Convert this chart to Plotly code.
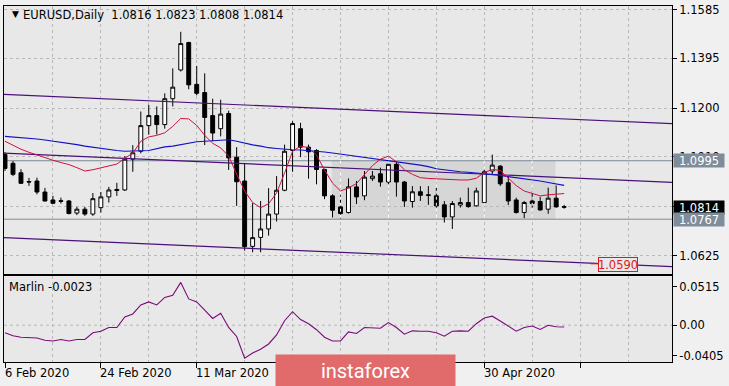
import plotly.graph_objects as go
import pandas as pd

# ---------------- data ----------------
dates = pd.bdate_range("2020-02-06", periods=71)

opens = [1.1019, 1.0985, 1.0948, 1.0914, 1.0916, 1.0873, 1.0842, 1.0839, 1.0838, 1.0791,
         1.0806, 1.0787, 1.0812, 1.0854, 1.0883, 1.0881, 1.1001, 1.1032, 1.1132, 1.1171,
         1.1136, 1.1237, 1.1349, 1.1456, 1.1293, 1.1261, 1.1171, 1.1120, 1.1179, 1.1009,
         1.0916, 1.0661, 1.0696, 1.0729, 1.0787, 1.0880, 1.1035, 1.1120, 1.1048, 1.1035,
         1.0961, 1.0858, 1.0815, 1.0793, 1.0893, 1.0858, 1.0925, 1.0944, 1.0912, 1.0981,
         1.0912, 1.0836, 1.0874, 1.0862, 1.0858, 1.0823, 1.0776, 1.0822, 1.0832, 1.0819,
         1.0832, 1.0955, 1.0974, 1.0909, 1.0842, 1.0793, 1.0838, 1.0836, 1.0806, 1.0849,
         1.0816]
highs = [1.1028, 1.0994, 1.0962, 1.0928, 1.0929, 1.0889, 1.0858, 1.0851, 1.0842, 1.0815,
         1.0815, 1.0869, 1.0873, 1.0893, 1.0909, 1.1013, 1.1056, 1.1187, 1.1213, 1.1207,
         1.1258, 1.1355, 1.1498, 1.1459, 1.1365, 1.1336, 1.1237, 1.1233, 1.1190, 1.1048,
         1.0982, 1.0830, 1.0838, 1.0888, 1.0935, 1.1058, 1.1149, 1.1143, 1.1058, 1.1040,
         1.0964, 1.0864, 1.0860, 1.0926, 1.0916, 1.0955, 1.0955, 1.0968, 1.0990, 1.0994,
         1.0916, 1.0896, 1.0896, 1.0896, 1.0890, 1.0838, 1.0838, 1.0851, 1.0890, 1.0890,
         1.0961, 1.1019, 1.0978, 1.0935, 1.0851, 1.0838, 1.0877, 1.0854, 1.0890, 1.0899,
         1.0823]
lows = [1.0955, 1.0935, 1.0904, 1.0897, 1.0864, 1.0836, 1.0828, 1.0828, 1.0786, 1.0783,
        1.0780, 1.0780, 1.0793, 1.0832, 1.0858, 1.0877, 1.0952, 1.1024, 1.1097, 1.1097,
        1.1120, 1.1207, 1.1343, 1.1274, 1.1250, 1.1056, 1.1071, 1.1090, 1.0959, 1.0819,
        1.0644, 1.0638, 1.0638, 1.0703, 1.0758, 1.0876, 1.0952, 1.1009, 1.0925, 1.0903,
        1.0845, 1.0774, 1.0770, 1.0789, 1.0826, 1.0841, 1.0916, 1.0894, 1.0903, 1.0855,
        1.0815, 1.0812, 1.0838, 1.0823, 1.0812, 1.0754, 1.0729, 1.0812, 1.0812, 1.0816,
        1.0829, 1.0942, 1.0897, 1.0822, 1.0789, 1.0771, 1.0812, 1.0800, 1.0788, 1.0812,
        1.0808]
closes = [1.0965, 1.0942, 1.0907, 1.0912, 1.0873, 1.0838, 1.0829, 1.0837, 1.0789, 1.0806,
          1.0787, 1.0847, 1.0854, 1.0881, 1.0879, 1.1001, 1.1026, 1.1132, 1.1171, 1.1136,
          1.1237, 1.1282, 1.1452, 1.1291, 1.1258, 1.1164, 1.1103, 1.1177, 1.1006, 1.0913,
          1.0660, 1.0695, 1.0729, 1.0787, 1.0880, 1.1032, 1.1140, 1.1048, 1.1030, 1.0961,
          1.0858, 1.0802, 1.0789, 1.0893, 1.0854, 1.0931, 1.0935, 1.0912, 1.0981, 1.0912,
          1.0838, 1.0874, 1.0860, 1.0860, 1.0819, 1.0776, 1.0828, 1.0832, 1.0816, 1.0877,
          1.0952, 1.0978, 1.0905, 1.0838, 1.0793, 1.0832, 1.0828, 1.0803, 1.0849, 1.0815,
          1.0814]

ma_fast = [1.1071, 1.1055, 1.1040, 1.1028, 1.1017, 1.1005, 1.0997, 1.0988, 1.0980, 1.0968,
           1.0955, 1.0960, 1.0967, 1.0974, 1.0982, 1.1005, 1.1024, 1.1071, 1.1088, 1.1094,
           1.1104, 1.1129, 1.1160, 1.1158, 1.1133, 1.1094, 1.1063, 1.1045, 1.1013, 1.0943,
           1.0877, 1.0832, 1.0812, 1.0827, 1.0869, 1.0947, 1.1032, 1.1052, 1.1046, 1.1017,
           1.0959, 1.0908, 1.0877, 1.0889, 1.0906, 1.0941, 1.0976, 1.1001, 1.1013, 1.0991,
           1.0960, 1.0942, 1.0929, 1.0926, 1.0924, 1.0922, 1.0922, 1.0920, 1.0920, 1.0927,
           1.0949, 1.0961, 1.0957, 1.0927, 1.0898, 1.0877, 1.0867, 1.0858, 1.0862, 1.0864,
           1.0867]
ma_slow = [1.1090, 1.1088, 1.1085, 1.1083, 1.1080, 1.1076, 1.1072, 1.1068, 1.1064, 1.1058,
           1.1052, 1.1047, 1.1043, 1.1038, 1.1035, 1.1032, 1.1032, 1.1034, 1.1035, 1.1042,
           1.1049, 1.1052, 1.1057, 1.1063, 1.1069, 1.1071, 1.1073, 1.1076, 1.1077, 1.1071,
           1.1063, 1.1057, 1.1052, 1.1046, 1.1043, 1.1040, 1.1038, 1.1037, 1.1035, 1.1033,
           1.1029, 1.1025, 1.1021, 1.1017, 1.1012, 1.1007, 1.1003, 1.0998, 1.0994, 1.0990,
           1.0987, 1.0983, 1.0978, 1.0972, 1.0964, 1.0960, 1.0955, 1.0952, 1.0950, 1.0947,
           1.0945, 1.0941, 1.0938, 1.0933, 1.0929, 1.0924, 1.0920, 1.0916, 1.0910, 1.0904,
           1.0899]

marlin = [-0.0100, -0.0140, -0.0160, -0.0170, -0.0170, -0.0200, -0.0210, -0.0190, -0.0210, -0.0190,
          -0.0190, -0.0100, -0.0080, -0.0030, -0.0030, 0.0110, 0.0150, 0.0270, 0.0310, 0.0270,
          0.0370, 0.0400, 0.0570, 0.0350, 0.0310, 0.0200, 0.0090, 0.0160, -0.0030, -0.0150,
          -0.0440, -0.0370, -0.0320, -0.0250, -0.0130, 0.0060, 0.0180, 0.0075, 0.0020, -0.0060,
          -0.0160, -0.0210, -0.0210, -0.0090, -0.0110, -0.0030, -0.0030, -0.0040, 0.0035, -0.0030,
          -0.0120, -0.0075, -0.0080, -0.0080, -0.0100, -0.0146, -0.0080, -0.0075, -0.0080, 0.0020,
          0.0097, 0.0120, 0.0057, -0.0010, -0.0080, -0.0030, -0.0010, -0.0057, 0.0000, -0.0020,
          -0.0023]

# trend channel (value at first bar, value at last bar)
channel_start = [1.12535, 1.10245, 1.06948]
channel_end = [1.11579, 1.09291, 1.06000]

# horizontal levels / rectangle / price labels
level_prices = [1.0995, 1.0767]
last_price = 1.0814
target_price = 1.0590
range_box_bars = [40.9, 68.9]

price_ticks = [1.1585, 1.1395, 1.1200, 1.1010, 1.0815, 1.0625]
price_tick_text = ["1.1585", "1.1395", "1.1200", "1.1010", "", "1.0625"]
osc_ticks = [0.0515, 0.0, -0.0405]
osc_tick_text = ["0.0515", "0.00", "-0.0405"]
date_label_bars = [0, 12, 24, 60]

title_text = "EURUSD,Daily  1.0816 1.0823 1.0808 1.0814"
osc_title = "Marlin -0.0023"

# ---------------- figure ----------------
pos = list(range(len(dates)))
XR = [-0.125, 83.5]
GRID = "#b9b9b9"
FONT = "DejaVu Sans"

W, H = 729, 386
L, R, T, B = 3, 57, 4, 24
pw, ph = W - L - R, H - T - B


def px_x(x):
    return (x - L) / pw


def px_y(y):
    return (H - B - y) / ph


def bar_paper(b):
    return (b - XR[0]) / (XR[1] - XR[0])


fig = go.Figure()

# white dotted grid seen through the range rectangle (under the candles)
for gx in range(0, 84, 6):
    if range_box_bars[0] < gx < range_box_bars[1]:
        fig.add_trace(go.Scatter(x=[gx, gx], y=level_prices, mode="lines",
                                 line=dict(color="white", width=1, dash="3px,3px"),
                                 hoverinfo="skip", xaxis="x", yaxis="y"))

fig.add_trace(go.Candlestick(
    x=pos, open=opens, high=highs, low=lows, close=closes,
    increasing=dict(line=dict(color="black", width=1), fillcolor="white"),
    decreasing=dict(line=dict(color="black", width=1), fillcolor="black"),
    whiskerwidth=0, hoverinfo="skip", xaxis="x", yaxis="y"))

n_last = len(pos) - 1
for s, e in zip(channel_start, channel_end):
    slope = (e - s) / n_last
    fig.add_trace(go.Scatter(x=XR, y=[s + slope * XR[0], s + slope * XR[1]], mode="lines",
                             line=dict(color="#4b0f7a", width=1.2), hoverinfo="skip",
                             xaxis="x", yaxis="y"))

fig.add_trace(go.Scatter(x=pos, y=ma_slow, mode="lines", line=dict(color="#1010c8", width=1.1),
                         hoverinfo="skip", xaxis="x", yaxis="y"))
fig.add_trace(go.Scatter(x=pos, y=ma_fast, mode="lines", line=dict(color="#d01040", width=1),
                         hoverinfo="skip", xaxis="x", yaxis="y"))

fig.add_trace(go.Scatter(x=pos, y=marlin, mode="lines", line=dict(color="#7a0a7a", width=1.1),
                         hoverinfo="skip", xaxis="x2", yaxis="y2"))

shapes = []
shapes.append(dict(type="rect", xref="x", yref="y", x0=range_box_bars[0], x1=range_box_bars[1],
                   y0=level_prices[1], y1=level_prices[0], fillcolor="#d6d6d6",
                   line=dict(width=0), layer="below"))
for lp in level_prices:
    shapes.append(dict(type="line", xref="x", yref="y", x0=XR[0], x1=XR[1], y0=lp, y1=lp,
                       line=dict(color="#7d8a97", width=1), layer="below"))
shapes.append(dict(type="line", xref="x2", yref="y2", x0=XR[0], x1=XR[1], y0=0, y1=0,
                   line=dict(color=GRID, width=1, dash="3px,3px"), layer="below"))
shapes.append(dict(type="line", xref="x", yref="y", x0=73.3, x1=74.3, y0=target_price + 0.0003,
                   y1=target_price + 0.0003, line=dict(color="#e01818", width=1), layer="above"))

ann = []
ann.append(dict(text="▼", xref="paper", yref="paper", x=px_x(9), y=px_y(12.5), xanchor="left",
                yanchor="middle", showarrow=False, font=dict(family=FONT, size=9, color="black")))
ann.append(dict(text=title_text.replace("  ", "&nbsp; "), xref="paper", yref="paper", x=px_x(20),
                y=px_y(13), xanchor="left", yanchor="middle", showarrow=False,
                font=dict(family=FONT, size=11.5, color="black")))
ann.append(dict(text=osc_title, xref="paper", yref="paper", x=px_x(6), y=px_y(287),
                xanchor="left", yanchor="middle", showarrow=False,
                font=dict(family=FONT, size=11.5, color="black")))
for b in date_label_bars:
    d = dates[b]
    ann.append(dict(text=f"{d.day} {d.strftime('%b')} {d.year}", xref="paper", yref="paper",
                    x=bar_paper(b) - 2.5 / pw, y=px_y(373), xanchor="left", yanchor="middle",
                    showarrow=False, font=dict(family=FONT, size=11.5, color="black")))

for price, col in [(level_prices[0], "#7f8c99"), (last_price, "black"), (level_prices[1], "#7f8c99")]:
    ann.append(dict(text=f"{price:.4f}", xref="paper", yref="y", x=px_x(673), y=price,
                    xanchor="left", yanchor="middle", showarrow=False, width=50, height=13,
                    bgcolor=col, borderpad=0, align="center",
                    font=dict(family=FONT, size=11.5, color="white")))
ann.append(dict(text=f"{target_price:.4f}", xref="x", yref="y", x=76.7, y=target_price + 0.0002,
                xanchor="center", yanchor="middle", showarrow=False, width=38, height=13,
                bgcolor="#e8e8e8", bordercolor="#e01818", borderwidth=1, borderpad=0,
                font=dict(family=FONT, size=11.5, color="#e01818")))
ann.append(dict(text="instaforex", xref="paper", yref="paper", x=px_x(365.5), y=px_y(370.5),
                xanchor="center", yanchor="middle", showarrow=False, width=179, height=31,
                bgcolor="#e16a6b", borderpad=0, font=dict(family="Roboto", size=20, color="white")))

axis_common = dict(showline=True, mirror=True, linecolor="black", linewidth=1, zeroline=False,
                   fixedrange=True)

fig.update_layout(
    width=W, height=H, margin=dict(l=L, r=R, t=T, b=B),
    paper_bgcolor="#f0f0f0", plot_bgcolor="#e8e8e8", showlegend=False,
    shapes=shapes, annotations=ann,
    xaxis=dict(domain=[0, 1], range=XR, anchor="y", tickvals=list(range(0, 84, 6)),
               showticklabels=False, ticks="", showgrid=True, gridcolor=GRID, griddash="3px,3px",
               gridwidth=1, rangeslider=dict(visible=False), **axis_common),
    yaxis=dict(domain=[px_y(274), 1], range=[1.05513, 1.15986], anchor="x", side="right",
               tickvals=price_ticks, ticktext=price_tick_text, ticks="outside", ticklen=4,
               tickcolor="black", showgrid=True, gridcolor=GRID, griddash="3px,3px", gridwidth=1,
               tickfont=dict(family=FONT, size=11.5, color="black"), **axis_common),
    xaxis2=dict(domain=[0, 1], range=XR, anchor="y2", tickvals=list(range(0, 84, 12)),
                showticklabels=False, ticks="outside", ticklen=5, tickcolor="black",
                showgrid=True, gridcolor=GRID, griddash="3px,3px", gridwidth=1,
                minor=dict(tickvals=list(range(0, 84, 6)), showgrid=True, gridcolor=GRID,
                           griddash="3px,3px", gridwidth=1, ticks=""),
                **axis_common),
    yaxis2=dict(domain=[0, px_y(276)], range=[-0.0490, 0.0649], anchor="x2", side="right",
                tickvals=osc_ticks, ticktext=osc_tick_text, ticks="outside", ticklen=4,
                tickcolor="black", showgrid=False,
                tickfont=dict(family=FONT, size=11.5, color="black"), **axis_common),
)

fig.write_html("out.html", config={"displayModeBar": False},
               post_script="document.body.style.margin='0';")
